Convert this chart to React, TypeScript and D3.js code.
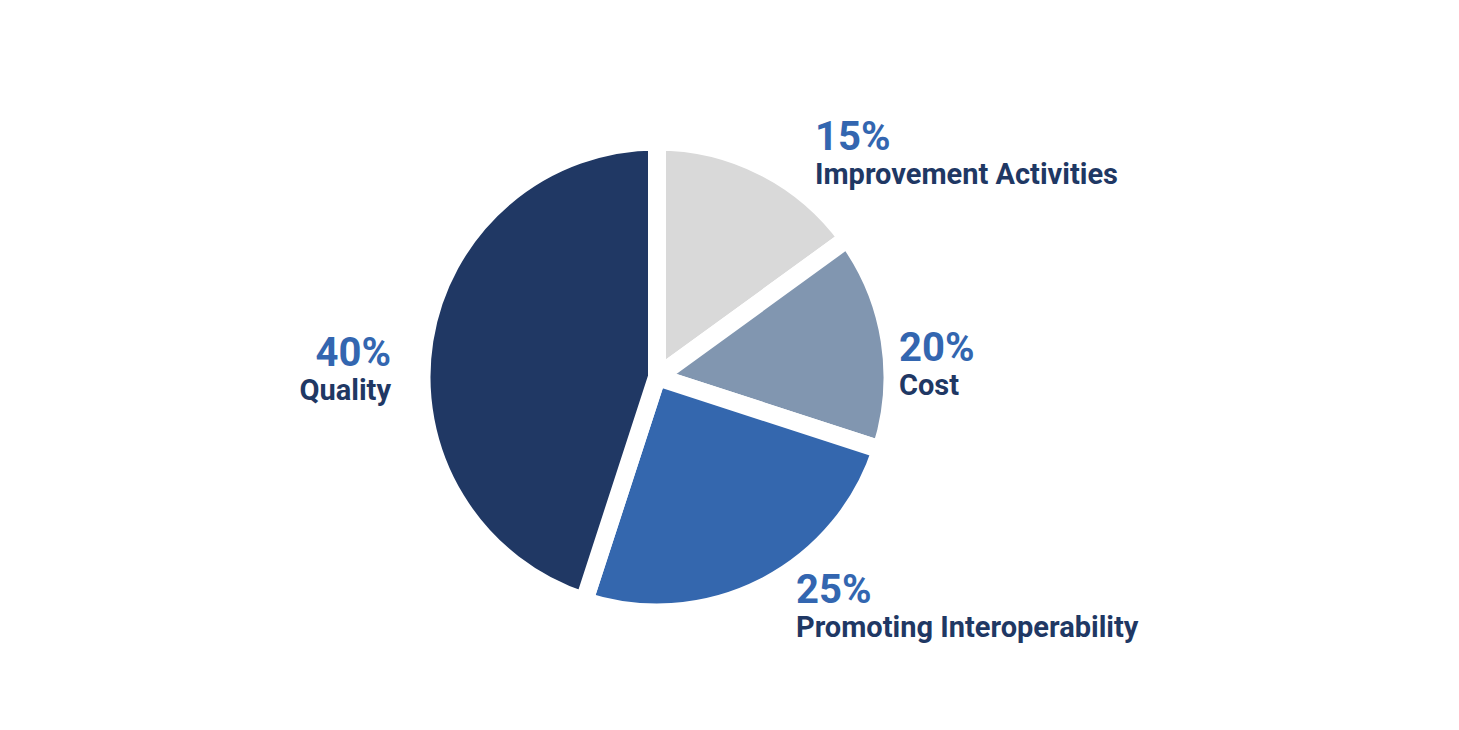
import React from "react";
import * as d3 from "d3";

// slice sizes as drawn in the picture (the printed labels differ)
const categories = ["Improvement Activities", "Cost", "Promoting Interoperability", "Quality"];
const shares = [15, 15, 25, 45];
const percentLabels = ["15%", "20%", "25%", "40%"];

const colors = ["#d9d9d9", "#8196b0", "#3467ae", "#203864"];

// where each label block sits: x, baseline of the percent line, anchor
const labelLayout = [
  { x: 815, y: 150, anchor: "start" },
  { x: 899, y: 361, anchor: "start" },
  { x: 796, y: 603, anchor: "start" },
  { x: 391, y: 366, anchor: "end" },
];

const width = 1459;
const height = 730;
const cx = 657;
const cy = 377;
const radius = 226.5;
const gap = 18;

const App = () => {
  const pie = d3
    .pie<number>()
    .sort(null)
    .value((d) => d)
    .startAngle(0)
    .endAngle(2 * Math.PI);

  const arcs = pie(shares);

  // white stroke eats half the gap on every edge, so grow the arc by that much
  const arc = d3
    .arc<d3.PieArcDatum<number>>()
    .innerRadius(0)
    .outerRadius(radius + gap / 2);

  return (
    <div style={{ position: "fixed", left: 0, top: 0, background: "#fff" }}>
      <svg width={width} height={height} style={{ display: "block" }}>
        <rect width={width} height={height} fill="#fff" />
        <g transform={`translate(${cx},${cy})`}>
          {arcs.map((a, i) => (
            <path
              key={categories[i]}
              d={arc(a) as string}
              fill={colors[i]}
              stroke="#fff"
              strokeWidth={gap}
              strokeLinejoin="miter"
            />
          ))}
        </g>
        {categories.map((name, i) => {
          const l = labelLayout[i];
          return (
            <g key={name} fontFamily="Roboto" fontWeight={700}>
              <text x={l.x} y={l.y} textAnchor={l.anchor} fontSize={40} fill="#3366b0">
                {percentLabels[i]}
              </text>
              <text x={l.x} y={l.y + 34} textAnchor={l.anchor} fontSize={29} fill="#1f3864">
                {name}
              </text>
            </g>
          );
        })}
      </svg>
    </div>
  );
};

export default App;
